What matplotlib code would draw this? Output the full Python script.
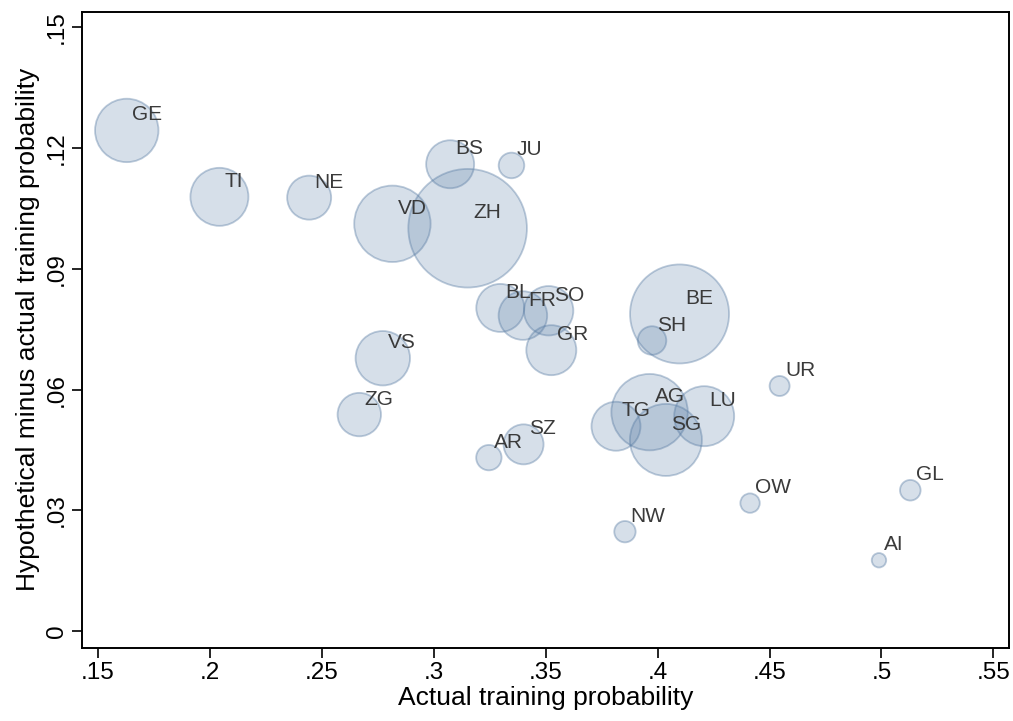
import matplotlib
matplotlib.use("Agg")
import matplotlib.pyplot as plt
import numpy as np

plt.rcParams['font.family'] = ['Liberation Sans', 'DejaVu Sans']

cantons = ["GE", "TI", "NE", "BS", "JU", "VD", "ZH", "BL", "FR", "SO", "GR", "VS", "ZG",
           "AR", "SZ", "BE", "SH", "UR", "AG", "TG", "LU", "SG", "OW", "NW", "GL", "AI"]
actual = [0.1628, 0.2042, 0.2443, 0.3073, 0.3347, 0.2815, 0.3151, 0.3297, 0.3398, 0.3513,
          0.3525, 0.2772, 0.2667, 0.3246, 0.3401, 0.4098, 0.3975, 0.4545, 0.3964, 0.3814,
          0.4208, 0.4037, 0.4413, 0.3854, 0.5129, 0.4989]
diff = [0.1244, 0.1079, 0.1077, 0.1160, 0.1157, 0.1012, 0.1001, 0.0803, 0.0784, 0.0796,
        0.0698, 0.0678, 0.0538, 0.0431, 0.0464, 0.0788, 0.0722, 0.0609, 0.0544, 0.0509,
        0.0534, 0.0475, 0.0318, 0.0247, 0.0350, 0.0176]
# relative bubble area (weight)
weight = [1005, 841, 484, 576, 164, 1459, 3516, 576, 590, 610,
          625, 740, 471, 161, 400, 2450, 204, 100, 1459, 600,
          900, 1296, 94, 114, 106, 52]

xticks = [0.15, 0.2, 0.25, 0.3, 0.35, 0.4, 0.45, 0.5, 0.55]
xticklabels = [".15", ".2", ".25", ".3", ".35", ".4", ".45", ".5", ".55"]
yticks = [0, 0.03, 0.06, 0.09, 0.12, 0.15]
yticklabels = ["0", ".03", ".06", ".09", ".12", ".15"]

fig = plt.figure(figsize=(10.13, 7.21), dpi=100)
ax = fig.add_axes([82/1013, 1-648/721, (1009-82)/1013, (648-11.7)/721])

sizes = [2.0736 * w for w in weight]
ax.scatter(actual, diff, s=sizes, facecolors=(87/255, 123/255, 163/255, 0.24),
           edgecolors=(87/255, 123/255, 163/255, 0.40), linewidths=1.3, zorder=2)

for name, x, y in zip(cantons, actual, diff):
    ax.annotate(name, (x, y), xytext=(3.8, 7.2), textcoords='offset points',
                ha='left', va='baseline', fontsize=15, color='#3a3a3a', zorder=3)

ax.set_xlim(0.1428, 0.557)
ax.set_ylim(-0.0042, 0.1539)
ax.set_xticks(xticks)
ax.set_xticklabels(xticklabels, fontsize=17.5)
ax.set_yticks(yticks)
ax.set_yticklabels(yticklabels, fontsize=17.5, rotation=90, va='center')
ax.tick_params(direction='out', length=7.2, width=1.2, pad=3, colors='black')
for sp in ax.spines.values():
    sp.set_linewidth(1.4)

ax.set_xlabel("Actual training probability", fontsize=19, labelpad=1)
ax.set_ylabel("Hypothetical minus actual training probability", fontsize=19, labelpad=4)

fig.savefig("out.png", dpi=100)
